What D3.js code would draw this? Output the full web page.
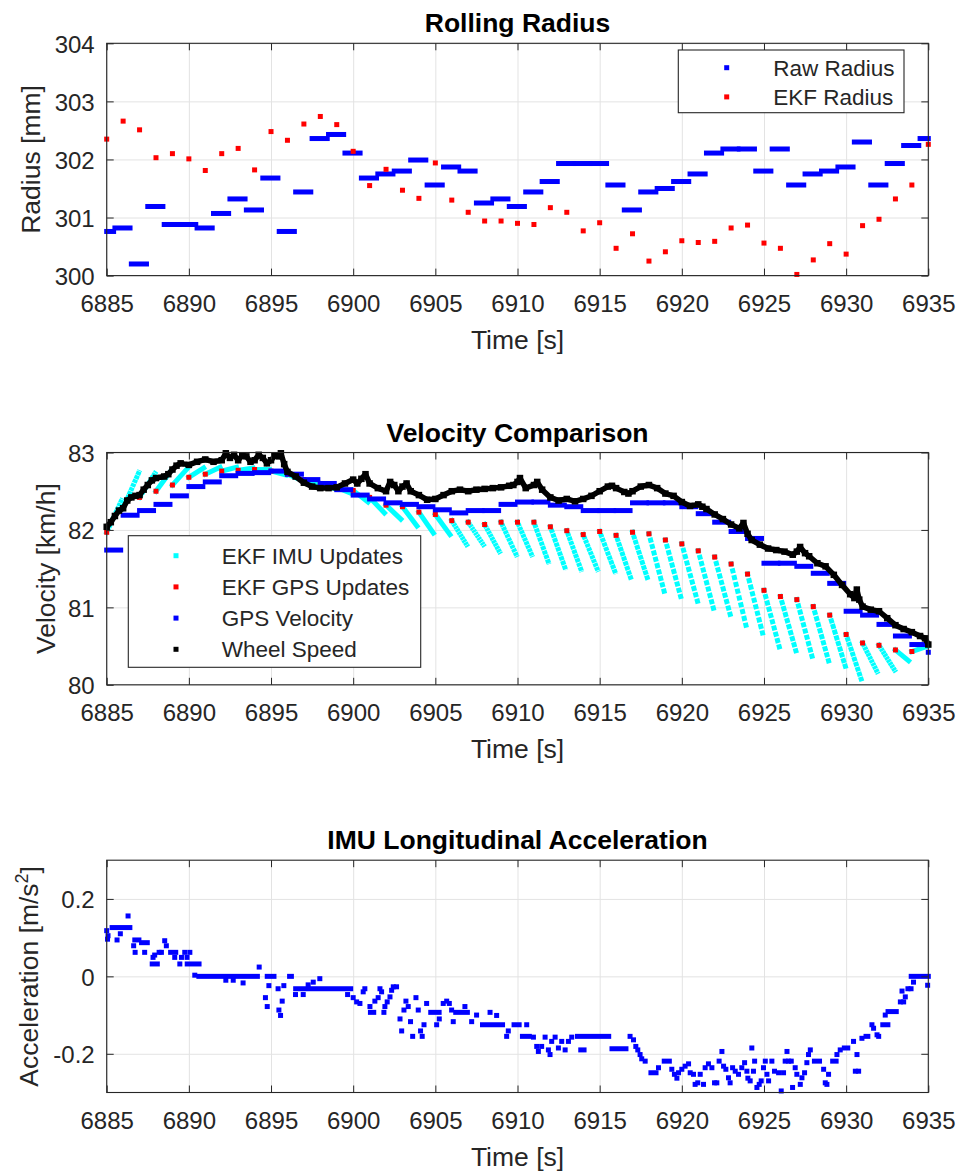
<!DOCTYPE html>
<html>
<head>
<meta charset="utf-8">
<script src="https://cdn.jsdelivr.net/npm/d3@7"></script>
<style>
html, body { margin: 0; padding: 0; background: #fff; }
svg { display: block; }
</style>
</head>
<body>
<svg id="fig" width="962" height="1173"></svg>
<script>
// ---------------- data ----------------
const timeTicks = [6885, 6890, 6895, 6900, 6905, 6910, 6915, 6920, 6925, 6930, 6935];

// Rolling radius
const radiusTicks = [300, 301, 302, 303, 304];
// raw radius: one held value per second, each held from its start time
const rawRadiusStart = [6884.5, 6885.5, 6886.5, 6887.5, 6888.5, 6889.5, 6890.5, 6891.5, 6892.5, 6893.5,
  6894.5, 6895.5, 6896.5, 6897.5, 6898.5, 6899.5, 6900.5, 6901.5, 6902.5, 6903.5,
  6904.5, 6905.5, 6906.5, 6907.5, 6908.5, 6909.5, 6910.5, 6911.5, 6912.5, 6913.5,
  6914.5, 6915.5, 6916.5, 6917.5, 6918.5, 6919.5, 6920.5, 6921.5, 6922.5, 6923.5,
  6924.5, 6925.5, 6926.5, 6927.5, 6928.5, 6929.5, 6930.5, 6931.5, 6932.5, 6933.5, 6934.5];
const rawRadiusHold = 0.92;
const rawRadius = [300.76, 300.82, 300.20, 301.19, 300.88, 300.88, 300.82, 301.07, 301.32, 301.13,
  301.68, 300.76, 301.44, 302.36, 302.43, 302.11, 301.68, 301.75, 301.80, 301.99,
  301.56, 301.87, 301.80, 301.25, 301.32, 301.19, 301.44, 301.62, 301.93, 301.93,
  301.93, 301.56, 301.13, 301.44, 301.50, 301.62, 301.75, 302.11, 302.18, 302.18,
  301.80, 302.18, 301.56, 301.75, 301.80, 301.87, 302.30, 301.56, 301.93, 302.24, 302.36];
const ekfRadiusTime = [6885, 6886, 6887, 6888, 6889, 6890, 6891, 6892, 6893, 6894,
  6895, 6896, 6897, 6898, 6899, 6900, 6901, 6902, 6903, 6904,
  6905, 6906, 6907, 6908, 6909, 6910, 6911, 6912, 6913, 6914,
  6915, 6916, 6917, 6918, 6919, 6920, 6921, 6922, 6923, 6924,
  6925, 6926, 6927, 6928, 6929, 6930, 6931, 6932, 6933, 6934, 6935];
const ekfRadius = [302.35, 302.66, 302.51, 302.03, 302.10, 302.01, 301.81, 302.10, 302.19, 301.82,
  302.48, 302.33, 302.61, 302.74, 302.60, 302.14, 301.55, 301.83, 301.47, 301.33,
  301.94, 301.30, 301.09, 300.94, 300.94, 300.90, 300.88, 301.17, 301.09, 300.77,
  300.91, 300.47, 300.72, 300.25, 300.41, 300.60, 300.57, 300.59, 300.82, 300.87,
  300.56, 300.47, 300.02, 300.27, 300.55, 300.37, 300.86, 300.97, 301.32, 301.56, 302.26];

// Velocity comparison
const velocityTicks = [80, 81, 82, 83];
const gpsTime = [6885, 6886, 6887, 6888, 6889, 6890, 6891, 6892, 6893, 6894,
  6895, 6896, 6897, 6898, 6899, 6900, 6901, 6902, 6903, 6904,
  6905, 6906, 6907, 6908, 6909, 6910, 6911, 6912, 6913, 6914,
  6915, 6916, 6917, 6918, 6919, 6920, 6921, 6922, 6923, 6924,
  6925, 6926, 6927, 6928, 6929, 6930, 6931, 6932, 6933, 6934, 6935];
const gpsHold = 0.85;
const gpsVelocity = [81.74, 82.19, 82.25, 82.33, 82.44, 82.56, 82.62, 82.70, 82.73, 82.74,
  82.76, 82.72, 82.65, 82.60, 82.52, 82.45, 82.40, 82.35, 82.33, 82.30,
  82.26, 82.22, 82.25, 82.25, 82.33, 82.36, 82.36, 82.32, 82.30, 82.25,
  82.25, 82.25, 82.35, 82.35, 82.35, 82.30, 82.21, 82.10, 81.98, 81.89,
  81.57, 81.57, 81.53, 81.44, 81.31, 80.95, 80.90, 80.78, 80.63, 80.52, 80.42];
// EKF state right after each GPS update
const ekfGpsTime = [6885, 6886, 6887, 6888, 6889, 6890, 6891, 6892, 6893, 6894,
  6895, 6896, 6897, 6898, 6899, 6900, 6901, 6902, 6903, 6904,
  6905, 6906, 6907, 6908, 6909, 6910, 6911, 6912, 6913, 6914,
  6915, 6916, 6917, 6918, 6919, 6920, 6921, 6922, 6923, 6924,
  6925, 6926, 6927, 6928, 6929, 6930, 6931, 6932, 6933, 6934];
const ekfGpsVelocity = [81.97, 82.28, 82.42, 82.50, 82.58, 82.68, 82.72, 82.76, 82.77, 82.78,
  82.76, 82.72, 82.65, 82.60, 82.55, 82.51, 82.42, 82.32, 82.30, 82.23,
  82.20, 82.12, 82.10, 82.07, 82.10, 82.10, 82.10, 82.04, 81.99, 81.94,
  81.98, 81.93, 81.97, 81.95, 81.87, 81.82, 81.73, 81.65, 81.56, 81.43,
  81.22, 81.14, 81.10, 81.01, 80.90, 80.65, 80.54, 80.51, 80.45, 80.43];
// IMU propagation between GPS updates: each run starts at the GPS update and ends here
const imuEndTime = [6885.9, 6886.95, 6887.93, 6888.9, 6889.9, 6890.9, 6891.9, 6892.9, 6893.9, 6894.9,
  6895.9, 6896.9, 6897.9, 6898.9, 6899.9, 6900.9, 6901.9, 6902.9, 6903.88, 6904.88,
  6905.89, 6906.9, 6907.92, 6908.9, 6909.92, 6910.86, 6911.87, 6912.89, 6913.86, 6914.86,
  6915.93, 6916.89, 6917.9, 6918.92, 6919.93, 6920.95, 6921.92, 6922.94, 6923.9, 6924.91,
  6925.93, 6926.94, 6927.92, 6928.93, 6929.95, 6930.92, 6931.88, 6932.95, 6933.8, 6934.95];
const imuEndVelocity = [82.38, 82.74, 82.73, 82.76, 82.79, 82.80, 82.81, 82.81, 82.80, 82.78,
  82.71, 82.64, 82.58, 82.53, 82.47, 82.36, 82.22, 82.14, 82.05, 81.96,
  81.94, 81.81, 81.81, 81.72, 81.68, 81.68, 81.59, 81.51, 81.49, 81.49,
  81.46, 81.38, 81.38, 81.21, 81.14, 81.08, 80.99, 80.91, 80.77, 80.67,
  80.49, 80.44, 80.37, 80.31, 80.24, 80.07, 80.17, 80.19, 80.31, 80.50];
const imuSamplesPerRun = 10;
const wheelTime = [6885.0, 6885.25, 6885.5, 6885.75, 6886.0, 6886.25, 6886.5, 6886.75, 6887.0, 6887.25,
  6887.5, 6887.75, 6888.0, 6888.5, 6888.75, 6889.0, 6889.25, 6889.5, 6890.0, 6890.5,
  6891.0, 6891.5, 6892.0, 6892.25, 6892.5, 6892.75, 6893.0, 6893.25, 6893.5, 6893.75,
  6894.0, 6894.25, 6894.5, 6894.75, 6895.0, 6895.25, 6895.5, 6895.6, 6895.8, 6896.0,
  6896.5, 6897.0, 6897.5, 6898.0, 6898.5, 6899.0, 6899.5, 6900.0, 6900.25, 6900.5,
  6900.75, 6901.0, 6901.5, 6902.0, 6902.25, 6902.5, 6902.75, 6903.0, 6903.25, 6903.5,
  6904.0, 6904.5, 6905.0, 6905.5, 6906.0, 6906.5, 6907.0, 6907.5, 6908.0, 6908.5,
  6909.0, 6909.5, 6909.75, 6910.0, 6910.15, 6910.5, 6911.0, 6911.2, 6911.5, 6912.0,
  6912.5, 6913.0, 6913.5, 6914.0, 6914.5, 6915.0, 6915.5, 6915.75, 6916.0, 6916.5,
  6916.75, 6917.0, 6917.5, 6918.0, 6918.5, 6919.0, 6919.5, 6920.0, 6920.5, 6921.0,
  6921.25, 6921.5, 6922.0, 6922.5, 6923.0, 6923.5, 6923.75, 6924.0, 6924.25, 6924.75,
  6925.25, 6925.75, 6926.25, 6926.75, 6927.0, 6927.2, 6927.5, 6927.75, 6928.25, 6928.75,
  6929.25, 6929.75, 6930.25, 6930.5, 6930.65, 6930.8, 6931.0, 6931.5, 6932.0, 6932.5,
  6933.0, 6933.5, 6934.0, 6934.5, 6934.8, 6935.0];
const wheelSpeed = [82.04, 82.10, 82.18, 82.25, 82.28, 82.38, 82.42, 82.44, 82.45, 82.52,
  82.58, 82.64, 82.67, 82.69, 82.72, 82.78, 82.83, 82.86, 82.84, 82.88,
  82.91, 82.88, 82.90, 82.99, 82.93, 82.97, 82.90, 82.96, 82.95, 82.88,
  82.90, 82.97, 82.93, 82.86, 82.90, 82.96, 82.95, 82.99, 82.85, 82.75,
  82.69, 82.61, 82.56, 82.54, 82.54, 82.55, 82.60, 82.65, 82.60, 82.66,
  82.72, 82.60, 82.54, 82.50, 82.62, 82.58, 82.50, 82.56, 82.60, 82.50,
  82.45, 82.39, 82.40, 82.45, 82.50, 82.52, 82.50, 82.52, 82.53, 82.54,
  82.55, 82.57, 82.58, 82.62, 82.67, 82.54, 82.58, 82.62, 82.52, 82.42,
  82.38, 82.40, 82.37, 82.40, 82.44, 82.50, 82.56, 82.57, 82.54, 82.49,
  82.47, 82.50, 82.56, 82.58, 82.54, 82.47, 82.44, 82.36, 82.31, 82.33,
  82.30, 82.27, 82.20, 82.14, 82.07, 82.02, 82.09, 81.95, 81.87, 81.81,
  81.76, 81.74, 81.72, 81.68, 81.72, 81.78, 81.70, 81.66, 81.57, 81.53,
  81.42, 81.29, 81.17, 81.12, 81.23, 81.10, 81.01, 80.97, 80.95, 80.86,
  80.77, 80.72, 80.68, 80.63, 80.60, 80.52];

// IMU longitudinal acceleration
const accelTicks = [-0.2, 0, 0.2];
// stretches where the sensor output stays on one quantised level
const accelHoldStart = [6885.33, 6886.71, 6887.12, 6887.77, 6888.89, 6889.9, 6890.61, 6894.77, 6896.13, 6896.5,
  6901.05, 6904.72, 6906.24, 6907.87, 6909.79, 6910.3, 6913.65, 6913.85, 6915.75, 6918.12,
  6918.93, 6928.07, 6929.18, 6929.89, 6931.21, 6932.23, 6932.55, 6933.95, 6933.96];
const accelHoldEnd = [6886.41, 6886.96, 6887.47, 6888.08, 6889.2, 6890.62, 6894.17, 6895.18, 6896.24, 6899.85,
  6901.25, 6905.23, 6906.95, 6909.09, 6910.1, 6910.72, 6915.55, 6914.05, 6916.6, 6918.43,
  6919.24, 6928.38, 6929.39, 6930.1, 6931.32, 6932.54, 6933.05, 6933.95, 6935.0];
const accelHoldValue = [0.126, 0.094, 0.087, 0.032, 0.062, 0.032, 0, 0, 0, -0.032,
  -0.093, -0.093, -0.093, -0.125, -0.125, -0.155, -0.155, -0.190, -0.187, -0.249,
  -0.219, -0.219, -0.219, -0.185, -0.155, -0.125, -0.091, -0.032, 0];
const accelTime = [6885.0, 6885.05, 6885.08, 6885.63, 6885.83, 6886.3, 6886.64, 6886.73, 6887.31, 6887.82,
  6887.92, 6888.19, 6888.33, 6888.53, 6888.63, 6889.14, 6889.45, 6889.55, 6889.75, 6889.89,
  6890.06, 6890.36, 6892.25, 6892.7, 6893.3, 6894.28, 6894.66, 6894.77, 6894.87, 6895.43,
  6895.48, 6895.58, 6895.68, 6895.78, 6896.49, 6896.96, 6897.26, 6897.57, 6897.97, 6899.66,
  6900.0, 6900.21, 6900.41, 6900.61, 6900.71, 6901.02, 6901.32, 6901.52, 6901.63, 6901.73,
  6901.87, 6901.93, 6902.07, 6902.24, 6902.34, 6902.44, 6902.64, 6902.85, 6902.95, 6903.09,
  6903.21, 6903.35, 6903.49, 6903.62, 6903.82, 6903.96, 6904.1, 6904.2, 6904.31, 6904.47,
  6905.08, 6905.24, 6905.48, 6905.69, 6905.85, 6905.99, 6906.09, 6906.8, 6907.21, 6907.51,
  6908.33, 6908.73, 6909.34, 6909.44, 6910.56, 6910.97, 6911.17, 6911.27, 6911.47, 6911.68,
  6911.88, 6911.98, 6912.08, 6912.29, 6912.49, 6912.69, 6912.9, 6913.1, 6913.3, 6916.85,
  6917.06, 6917.2, 6917.32, 6917.46, 6917.56, 6917.77, 6918.58, 6919.39, 6919.55, 6919.7,
  6919.8, 6920.0, 6920.2, 6920.41, 6920.51, 6920.71, 6920.81, 6920.97, 6921.12, 6921.32,
  6921.42, 6921.62, 6921.83, 6921.99, 6922.13, 6922.27, 6922.44, 6922.54, 6922.68, 6922.84,
  6922.94, 6923.09, 6923.25, 6923.45, 6923.65, 6923.82, 6923.96, 6924.02, 6924.16, 6924.26,
  6924.36, 6924.43, 6924.57, 6924.71, 6924.83, 6924.97, 6925.08, 6925.18, 6925.28, 6925.48,
  6925.64, 6925.89, 6926.05, 6926.19, 6926.29, 6926.4, 6926.5, 6926.66, 6926.74, 6926.9,
  6927.0, 6927.21, 6927.31, 6927.47, 6927.61, 6927.71, 6927.82, 6928.63, 6928.73, 6928.83,
  6928.93, 6929.44, 6929.64, 6930.45, 6930.56, 6930.66, 6930.76, 6930.96, 6931.57, 6931.67,
  6931.88, 6931.98, 6932.38, 6933.3, 6933.4, 6933.5, 6933.6, 6933.76, 6934.1, 6934.96];
const accelValue = [0.118, 0.096, 0.105, 0.094, 0.110, 0.156, 0.079, 0.062, 0.062, 0.049,
  0.055, 0.062, 0.062, 0.092, 0.079, 0.049, 0.032, 0.049, 0.062, 0.049,
  0.062, 0.003, -0.010, -0.010, -0.017, 0.024, -0.055, -0.078, -0.024, -0.032,
  -0.087, -0.101, -0.064, -0.024, -0.047, -0.047, -0.022, -0.015, -0.006, -0.047,
  -0.055, -0.066, -0.070, -0.040, -0.032, -0.078, -0.064, -0.055, -0.032, -0.040,
  -0.093, -0.078, -0.066, -0.053, -0.036, -0.027, -0.027, -0.110, -0.141, -0.087,
  -0.064, -0.078, -0.117, -0.155, -0.055, -0.087, -0.141, -0.155, -0.125, -0.070,
  -0.125, -0.110, -0.070, -0.064, -0.070, -0.087, -0.117, -0.078, -0.117, -0.100,
  -0.093, -0.101, -0.155, -0.141, -0.125, -0.157, -0.181, -0.194, -0.181, -0.157,
  -0.190, -0.202, -0.168, -0.157, -0.185, -0.168, -0.190, -0.168, -0.157, -0.155,
  -0.164, -0.181, -0.190, -0.202, -0.213, -0.219, -0.236, -0.240, -0.253, -0.263,
  -0.249, -0.240, -0.232, -0.226, -0.249, -0.253, -0.279, -0.275, -0.253, -0.279,
  -0.236, -0.226, -0.236, -0.275, -0.275, -0.219, -0.194, -0.232, -0.240, -0.262,
  -0.275, -0.236, -0.245, -0.253, -0.236, -0.223, -0.245, -0.263, -0.270, -0.185,
  -0.245, -0.219, -0.287, -0.279, -0.270, -0.236, -0.219, -0.253, -0.270, -0.219,
  -0.245, -0.249, -0.296, -0.249, -0.219, -0.194, -0.219, -0.219, -0.287, -0.236,
  -0.253, -0.279, -0.262, -0.249, -0.223, -0.202, -0.190, -0.240, -0.275, -0.279,
  -0.253, -0.202, -0.190, -0.168, -0.245, -0.202, -0.245, -0.160, -0.125, -0.134,
  -0.151, -0.155, -0.100, -0.066, -0.038, -0.066, -0.053, -0.032, -0.015, -0.023];

// ---------------- drawing ----------------
const FONT = '"Liberation Sans", Arial, Helvetica, sans-serif';
const AXIS = "#262626";
const GRID = "#e3e3e3";
const BLUE = "#0000ff", RED = "#ff0000", CYAN = "#00ffff", BLACK = "#000000";
const MK = 5;            // marker size in px
const PANEL_H = 232.3;
const tMin = 6885, tMax = 6935;

const fig = d3.select("#fig").attr("font-family", FONT);
const x = d3.scaleLinear().domain([tMin, tMax]).range([106.7, 928.3]);
const xMid = (x.range()[0] + x.range()[1]) / 2;

function makePanel(top, yDomain, yTicks) {
  const bottom = top + PANEL_H;
  const y = d3.scaleLinear().domain(yDomain).range([bottom, top]);
  const root = fig.append("g");
  // grid
  root.append("g").attr("transform", `translate(0,${bottom})`)
    .call(d3.axisBottom(x).tickValues(timeTicks).tickSize(-PANEL_H).tickFormat(""))
    .call(g => { g.select(".domain").remove(); g.selectAll("line").attr("stroke", GRID); });
  root.append("g").attr("transform", `translate(${x.range()[0]},0)`)
    .call(d3.axisLeft(y).tickValues(yTicks).tickSize(-(x.range()[1] - x.range()[0])).tickFormat(""))
    .call(g => { g.select(".domain").remove(); g.selectAll("line").attr("stroke", GRID); });
  const data = root.append("g");
  const front = root.append("g");
  return { y, top, bottom, data, front, yTicks };
}

function styleAxis(g) {
  g.attr("font-family", FONT).attr("font-size", 24);
  g.select(".domain").remove();
  g.selectAll(".tick line").attr("stroke", AXIS);
  g.selectAll(".tick text").attr("fill", AXIS);
}

function finishPanel(p, yFmt, title, ylabelParts, ylabelX) {
  const f = p.front;
  const [xl, xr] = x.range();
  f.append("g").attr("transform", `translate(0,${p.bottom})`)
    .call(d3.axisBottom(x).tickValues(timeTicks).tickFormat(d3.format("d")).tickSizeInner(-7).tickSizeOuter(0).tickPadding(19))
    .call(styleAxis);
  f.append("g").attr("transform", `translate(0,${p.top})`)
    .call(d3.axisTop(x).tickValues(timeTicks).tickFormat("").tickSizeInner(-7).tickSizeOuter(0))
    .call(styleAxis);
  f.append("g").attr("transform", `translate(${xl},0)`)
    .call(d3.axisLeft(p.y).tickValues(p.yTicks).tickFormat(yFmt).tickSizeInner(-7).tickSizeOuter(0).tickPadding(12))
    .call(styleAxis)
    .call(g => g.selectAll(".tick text").attr("dy", "0.37em"));
  f.append("g").attr("transform", `translate(${xr},0)`)
    .call(d3.axisRight(p.y).tickValues(p.yTicks).tickFormat("").tickSizeInner(-7).tickSizeOuter(0))
    .call(styleAxis);
  f.append("rect").attr("x", xl).attr("y", p.top).attr("width", xr - xl).attr("height", PANEL_H)
    .attr("fill", "none").attr("stroke", AXIS).attr("stroke-width", 1.1);
  f.append("text").attr("x", xMid).attr("y", p.top - 11).attr("text-anchor", "middle")
    .attr("font-size", 26.5).attr("font-weight", "bold").attr("fill", "#000").text(title);
  f.append("text").attr("x", xMid).attr("y", p.bottom + 73).attr("text-anchor", "middle")
    .attr("font-size", 26.5).attr("fill", AXIS).text("Time [s]");
  const yl = f.append("text")
    .attr("transform", `translate(${ylabelX},${(p.top + p.bottom) / 2}) rotate(-90)`)
    .attr("text-anchor", "middle").attr("font-size", 26.5).attr("fill", AXIS);
  ylabelParts.forEach(part => {
    const ts = yl.append("tspan").text(part.text);
    if (part.sup) ts.attr("font-size", 18).attr("dy", "-0.55em");
    if (part.after) ts.attr("dy", "0.4em");
  });
}

// held values drawn as bars of marker height
function drawHolds(g, y, starts, ends, values, color) {
  const idx = d3.range(starts.length);
  g.selectAll(null).data(idx).join("rect")
    .attr("x", i => x(Math.max(tMin, starts[i])) - MK / 2)
    .attr("width", i => Math.max(0, x(Math.min(tMax, ends[i])) - x(Math.max(tMin, starts[i]))) + MK)
    .attr("y", i => y(values[i]) - MK / 2)
    .attr("height", MK)
    .attr("fill", color);
}
function drawSquares(g, y, times, values, color, size) {
  const s = size || MK;
  g.selectAll(null).data(d3.range(times.length)).join("rect")
    .attr("x", i => x(times[i]) - s / 2).attr("y", i => y(values[i]) - s / 2)
    .attr("width", s).attr("height", s).attr("fill", color);
}

function legend(box, rows) {
  const g = fig.append("g");
  g.append("rect").attr("x", box.x).attr("y", box.y).attr("width", box.w).attr("height", box.h)
    .attr("fill", "#fff").attr("stroke", AXIS).attr("stroke-width", 1.1);
  rows.forEach((r, i) => {
    const cy = box.firstRow + i * box.rowStep;
    g.append("rect").attr("x", box.markX - 2.5).attr("y", cy - 2.5).attr("width", 5).attr("height", 5).attr("fill", r.color);
    g.append("text").attr("x", box.textX).attr("y", cy + 8).attr("font-size", 22.5).attr("fill", AXIS).text(r.label);
  });
}

// ---- Rolling Radius ----
const p1 = makePanel(43.3, [300, 304], radiusTicks);
drawHolds(p1.data, p1.y, rawRadiusStart, rawRadiusStart.map(t => t + rawRadiusHold), rawRadius, BLUE);
drawSquares(p1.data, p1.y, ekfRadiusTime, ekfRadius, RED);
finishPanel(p1, d3.format("d"), "Rolling Radius", [{ text: "Radius [mm]" }], 39.5);
legend({ x: 678.3, y: 50, w: 225.7, h: 62.7, markX: 726.7, textX: 773.3, firstRow: 67.7, rowStep: 29.2 },
  [{ label: "Raw Radius", color: BLUE }, { label: "EKF Radius", color: RED }]);

// ---- Velocity Comparison ----
const p2 = makePanel(452.5, [80, 83], velocityTicks);
// IMU propagation runs, drawn as dotted strokes with one dot per IMU sample
const imuG = p2.data.append("g");
ekfGpsTime.forEach((t0, i) => {
  let ax = x(t0), ay = p2.y(ekfGpsVelocity[i]);
  let bx = x(imuEndTime[i]), by = p2.y(imuEndVelocity[i]);
  const len = Math.hypot(bx - ax, by - ay);
  const ux = (bx - ax) / len, uy = (by - ay) / len;
  ax -= ux * MK / 2; ay -= uy * MK / 2; bx += ux * MK / 2; by += uy * MK / 2;
  const period = len / (imuSamplesPerRun - 1);
  const line = imuG.append("line").attr("x1", ax).attr("y1", ay).attr("x2", bx).attr("y2", by)
    .attr("stroke", CYAN).attr("stroke-width", MK);
  if (period >= 3) {
    const dash = Math.min(MK, period * 0.85);
    line.attr("stroke-dasharray", `${dash} ${period - dash}`);
  }
});
drawSquares(p2.data, p2.y, ekfGpsTime, ekfGpsVelocity, RED);
drawHolds(p2.data, p2.y, gpsTime, gpsTime.map(t => t + gpsHold), gpsVelocity, BLUE);
p2.data.append("path")
  .attr("d", d3.line().x(i => x(wheelTime[i])).y(i => p2.y(wheelSpeed[i]))(d3.range(wheelTime.length)))
  .attr("fill", "none").attr("stroke", BLACK).attr("stroke-width", 5.5).attr("stroke-linejoin", "round");
drawSquares(p2.data, p2.y, wheelTime, wheelSpeed, BLACK, 6.5);
finishPanel(p2, d3.format("d"), "Velocity Comparison", [{ text: "Velocity [km/h]" }], 54.5);
legend({ x: 128.3, y: 535.7, w: 292.4, h: 131.6, markX: 176, textX: 221.7, firstRow: 555.7, rowStep: 31.2 },
  [{ label: "EKF IMU Updates", color: CYAN }, { label: "EKF GPS Updates", color: RED },
   { label: "GPS Velocity", color: BLUE }, { label: "Wheel Speed", color: BLACK }]);

// ---- IMU Longitudinal Acceleration ----
const p3 = makePanel(860.2, [-0.3, 0.3], accelTicks);
drawHolds(p3.data, p3.y, accelHoldStart, accelHoldEnd, accelHoldValue, BLUE);
drawSquares(p3.data, p3.y, accelTime, accelValue, BLUE);
finishPanel(p3, d => (d < 0 ? "-" : "") + Math.abs(d), "IMU Longitudinal Acceleration",
  [{ text: "Acceleration [m/s" }, { text: "2", sup: true }, { text: "]", after: true }], 38);
</script>
</body>
</html>
